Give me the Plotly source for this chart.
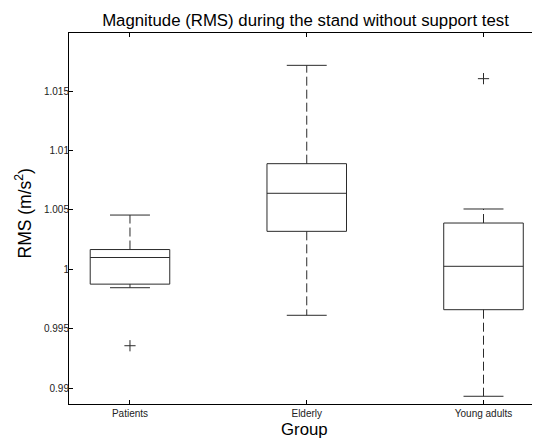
import plotly.graph_objects as go

# ---- data ----
categories = ["Patients", "Elderly", "Young adults"]
positions = [1, 2, 3]
lower_whisker = [0.99846, 0.99614, 0.98933]
q1 = [0.99876, 1.00320, 0.99661]
median = [1.00100, 1.00640, 1.00026]
q3 = [1.00167, 1.00889, 1.00390]
upper_whisker = [1.00457, 1.01716, 1.00508]
outliers = [[0.99358], [], [1.01604]]

y_tickvals = [0.99, 0.995, 1.0, 1.005, 1.01, 1.015]
y_ticktext = ["0.99", "0.995", "1", "1.005", "1.01", "1.015"]

FONT = "Liberation Sans, Arial, Helvetica, sans-serif"
LINE = "#2b2b2b"
BOX_HALF = 0.225
CAP_HALF = 0.113

# page body has an 8px default margin; figure is sized to compensate
W, H = 532, 430

fig = go.Figure()

for i, p in enumerate(positions):
    fig.add_trace(go.Scatter(
        x=[p - BOX_HALF, p + BOX_HALF, p + BOX_HALF, p - BOX_HALF, p - BOX_HALF],
        y=[q1[i], q1[i], q3[i], q3[i], q1[i]],
        mode="lines", line=dict(color=LINE, width=1), hoverinfo="skip", showlegend=False))
    fig.add_trace(go.Scatter(
        x=[p - BOX_HALF, p + BOX_HALF], y=[median[i], median[i]],
        mode="lines", line=dict(color=LINE, width=1), hoverinfo="skip", showlegend=False))
    fig.add_trace(go.Scatter(
        x=[p, p, None, p, p],
        y=[q3[i], upper_whisker[i], None, q1[i], lower_whisker[i]],
        mode="lines", line=dict(color=LINE, width=1, dash="9px,4px"),
        hoverinfo="skip", showlegend=False))
    fig.add_trace(go.Scatter(
        x=[p - CAP_HALF, p + CAP_HALF, None, p - CAP_HALF, p + CAP_HALF],
        y=[upper_whisker[i], upper_whisker[i], None, lower_whisker[i], lower_whisker[i]],
        mode="lines", line=dict(color=LINE, width=1), hoverinfo="skip", showlegend=False))
    if outliers[i]:
        fig.add_trace(go.Scatter(
            x=[p] * len(outliers[i]), y=outliers[i], mode="markers",
            marker=dict(symbol="cross-thin", size=8, line=dict(color=LINE, width=1)),
            hoverinfo="skip", showlegend=False))

axis_common = dict(
    showgrid=False, zeroline=False, showline=True, linecolor="black", linewidth=1,
    mirror="ticks", ticks="inside", ticklen=4, tickcolor="black", tickwidth=1,
    tickfont=dict(family=FONT, size=10, color="#222"),
)

fig.update_xaxes(range=[0.655, 3.314], tickvals=positions, ticktext=categories, **axis_common)
fig.update_yaxes(range=[0.98868, 1.01988], tickvals=y_tickvals, ticktext=y_ticktext,
                 ticklabelstandoff=-3, **axis_common)

fig.update_layout(
    width=W, height=H,
    margin=dict(l=61, r=1, t=25, b=34),
    paper_bgcolor="white", plot_bgcolor="white",
    font=dict(family=FONT, color="black"),
    title=dict(text="Magnitude (RMS) during the stand without support test",
               x=297.5 / W, xanchor="center",
               y=1 - 12 / H, yanchor="middle", yref="container",
               font=dict(family=FONT, size=16.8, color="black")),
    annotations=[
        dict(text="Group", xref="paper", yref="paper", x=0.5, y=0,
             yshift=-25, yanchor="middle", showarrow=False,
             font=dict(family=FONT, size=16.8, color="black")),
        dict(text="RMS (m/s<sup>2</sup>)", xref="paper", yref="paper", x=0, y=0.5,
             xshift=-46, yshift=5, xanchor="center", yanchor="middle", textangle=-90,
             showarrow=False, font=dict(family=FONT, size=17.5, color="black")),
    ],
)

fig.write_html("out.html")
